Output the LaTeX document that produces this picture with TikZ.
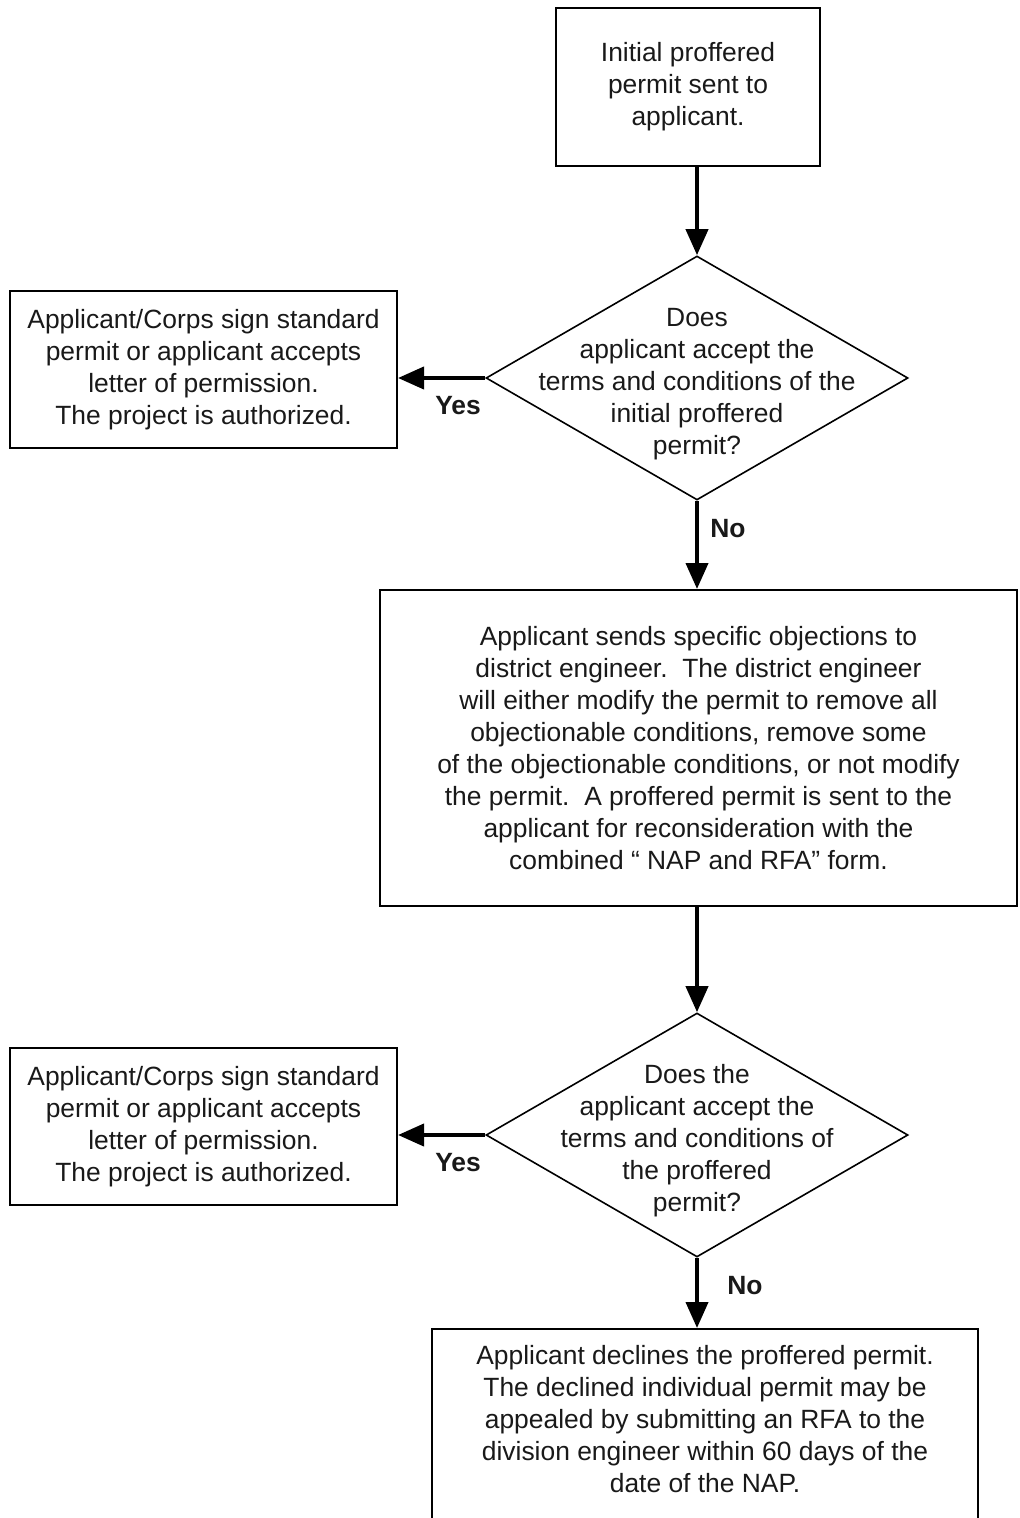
\documentclass[tikz,border=0pt]{standalone}
\usepackage{fontspec}
\setmainfont{Liberation Sans}
\usepackage{tikz}
\usetikzlibrary{arrows.meta,shapes.geometric}
\frenchspacing

\begin{document}
\begin{tikzpicture}[x=0.5pt,y=-0.5pt,
  every node/.style={font=\fontsize{13.2}{16}\selectfont,text=black!90},
  box/.style={draw,line width=1pt,rectangle,align=center,inner sep=2pt},
  decision/.style={draw,line width=0.8pt,diamond,minimum width=211pt,minimum height=122pt,inner sep=0pt},
  question/.style={align=center,yshift=-3pt},
  arr/.style={line width=2pt,-{Triangle[width=11pt,length=13pt]}},
  answer/.style={font=\fontsize{13.2}{16}\selectfont\bfseries}]
  \useasboundingbox (0,0) rectangle (1019,1518);
  \clip (0,0) rectangle (1019,1518);

  \node[box,minimum width=132pt,minimum height=79pt] (start) at (688,87)
    {Initial proffered\\permit sent to\\applicant.};

  \node[decision,label={[question]center:Does\\applicant accept the\\terms and conditions of the\\initial proffered\\permit?}] (ask1) at (697,378) {};

  \node[box,minimum width=193.5pt,minimum height=78.5pt] (ok1) at (203.5,369.5)
    {Applicant/Corps sign standard\\permit or applicant accepts\\letter of permission.\\The project is authorized.};

  \node[box,minimum width=318.5pt,minimum height=158pt] (object) at (698.5,748)
    {Applicant sends specific objections to\\district engineer.~ The district engineer\\will either modify the permit to remove all\\objectionable conditions, remove some\\of the objectionable conditions, or not modify\\the permit.~ A proffered permit is sent to the\\applicant for reconsideration with the\\combined “ NAP and RFA” form.};

  \node[decision,label={[question]center:Does the\\applicant accept the\\terms and conditions of\\the proffered\\permit?}] (ask2) at (697,1135) {};

  \node[box,minimum width=193.5pt,minimum height=78.5pt] (ok2) at (203.5,1126.5)
    {Applicant/Corps sign standard\\permit or applicant accepts\\letter of permission.\\The project is authorized.};

  \node[box,anchor=north,minimum width=273pt,inner ysep=8pt,text depth=90pt] (decline) at (705,1328)
    {Applicant declines the proffered permit.\\The declined individual permit may be\\appealed by submitting an RFA to the\\division engineer within 60 days of the\\date of the NAP.};

  % answers
  \node[answer] (yes1) at (458,406) {Yes};
  \node[answer] (no1) at (728,529) {No};
  \node[answer] (yes2) at (458,1163) {Yes};
  \node[answer] (no2) at (745,1286) {No};

  \draw[arr] (start.south -| ask1.north) -- (ask1.north);
  \draw[arr] (ask1.west) -- (ask1.west -| ok1.east);
  \draw[arr] (ask1.south) -- (ask1.south |- object.north);
  \draw[arr] (object.south -| ask2.north) -- (ask2.north);
  \draw[arr] (ask2.west) -- (ask2.west -| ok2.east);
  \draw[arr] (ask2.south) -- (ask2.south |- decline.north);
\end{tikzpicture}
\end{document}
